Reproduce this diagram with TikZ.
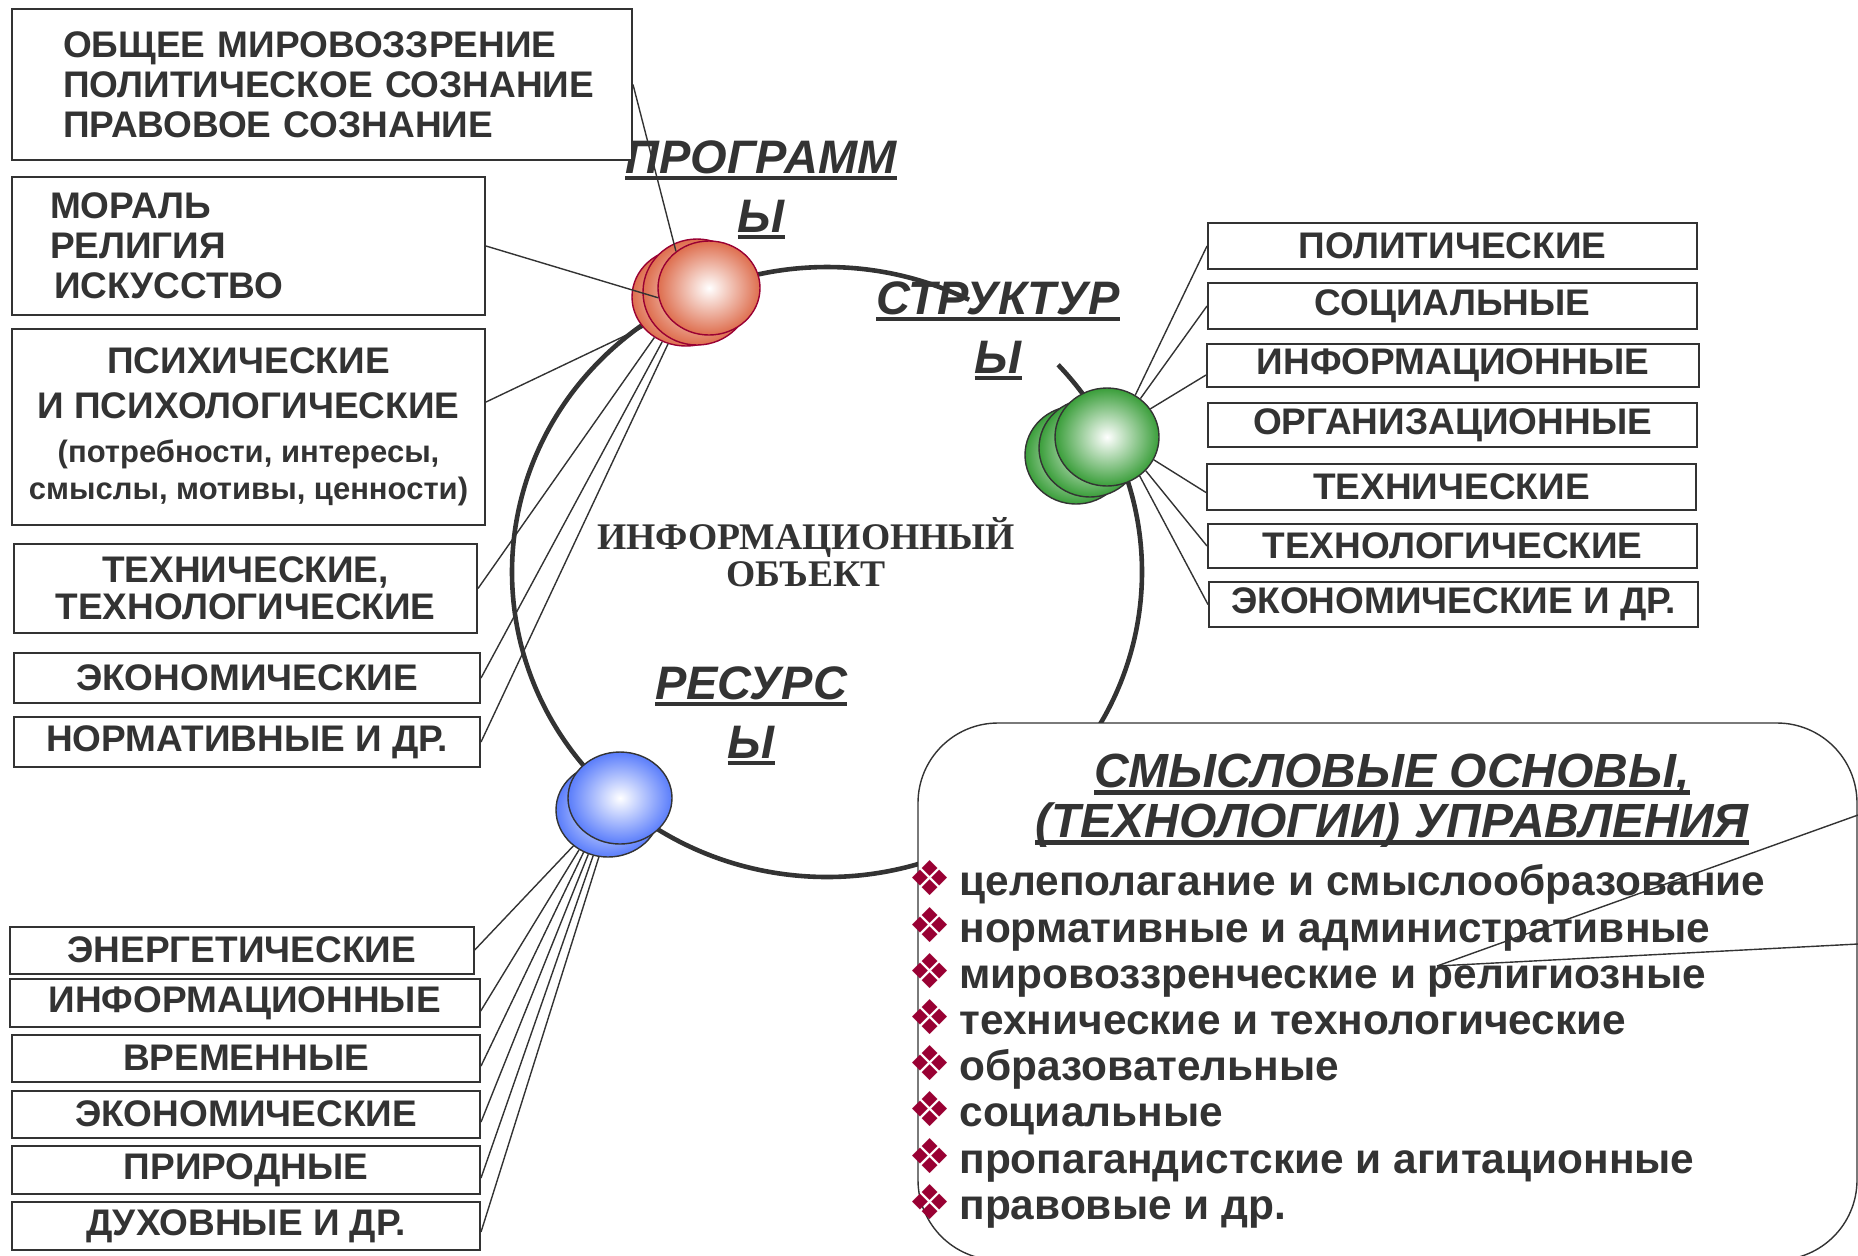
\documentclass[tikz,border=0pt]{standalone}
\usepackage{fontspec}
\setmainfont{Liberation Sans}
\newfontfamily\serifobj{Liberation Serif}
\newfontfamily\dingbat{DejaVu Sans}
\usetikzlibrary{shapes.geometric}

\definecolor{ink}{HTML}{333333}
\definecolor{crimson}{HTML}{990033}
\definecolor{redball}{HTML}{DE6E4E}
\definecolor{greenball}{HTML}{3A9E3A}
\definecolor{blueball}{HTML}{5A7DFB}

\newsavebox{\ulbox}
\newcommand{\uln}[1]{\sbox{\ulbox}{#1}\rlap{\usebox{\ulbox}}\rule[-3.5pt]{\wd\ulbox}{2.2pt}}
\newcommand{\bul}{{\dingbat\fontsize{24}{20}\selectfont\color{crimson}❖}\hspace{4pt}}

\tikzset{
  box/.style={draw=ink, line width=1pt, fill=white, inner sep=0pt, align=center, text=ink,
    font=\fontsize{18.5}{20}\selectfont\bfseries},
  wire/.style={draw=ink, line width=0.7pt},
  ball/.style 2 args={ellipse, inner sep=0pt, draw=#2, line width=0.7pt, inner color=white, outer color=#1},
  tag/.style={inner sep=0pt, align=center, text=ink, font=\fontsize{23.5}{29.5}\selectfont\bfseries\itshape}
}

\begin{document}
\begin{tikzpicture}[x=0.5pt, y=-0.5pt]
		\useasboundingbox (0,0) rectangle (1858,1255);
		\clip (0,0) rectangle (1858,1255);
		
		% ring of the object
		\draw[ink, line width=2.3pt] (827,572) ++(-42.8:315 and 305)
			arc[start angle=-42.8, end angle=296.8, x radius=315, y radius=305];
		
		\node[ball={redball}{crimson}, minimum width=54pt, minimum height=49pt] (RA) at (686,297) {};
		\node[ball={redball}{crimson}, minimum width=54pt, minimum height=53pt] (RB) at (697,292) {};
		\node[ball={redball}{crimson}, minimum width=51pt, minimum height=47pt] (R) at (709,288) {};
		
		\node[ball={greenball}{ink}, minimum width=51pt, minimum height=49pt] (GA) at (1076,455) {};
		\node[ball={greenball}{ink}, minimum width=51pt, minimum height=49pt] (GB) at (1090,448) {};
		\node[ball={greenball}{ink}, minimum width=52pt, minimum height=49pt] (G) at (1107,437) {};
		
		\node[ball={blueball}{ink}, minimum width=52pt, minimum height=47pt] (BA) at (608,810) {};
		\node[ball={blueball}{ink}, minimum width=52pt, minimum height=46pt] (B) at (620,798) {};
		
		\node[tag] (P) at (761,190) {\uln{ПРОГРАММ}\\\uln{Ы}};
		\node[tag] (S) at (998,331) {\uln{СТРУКТУР}\\\uln{Ы}};
		\node[tag] (Q) at (751,716) {\uln{РЕСУРС}\\\uln{Ы}};
		\node[text=ink, align=center, inner sep=0pt, font=\serifobj\bfseries\fontsize{18.8}{18.5}\selectfont] (I) at (806,552) {ИНФОРМАЦИОННЫЙ\\ОБЪЕКТ};
		
		% programmes
		\node[box, text width=259pt, inner xsep=25.5pt, align=left, minimum height=75.5pt] (W1) at (322,84.5) {\mbox{ОБЩЕЕ МИРОВОЗЗРЕНИЕ}\\\mbox{ПОЛИТИЧЕСКОЕ СОЗНАНИЕ}\\\mbox{ПРАВОВОЕ СОЗНАНИЕ}};
		\node[box, text width=198.5pt, inner xsep=19pt, align=left, minimum height=69pt] (W2) at (248.5,246) {МОРАЛЬ\\РЕЛИГИЯ\\\hspace*{2pt}ИСКУССТВО};
		\node[box, minimum width=236.5pt, minimum height=98pt] (W3) at (248.5,427) {ПСИХИЧЕСКИЕ\\[2.5pt]И ПСИХОЛОГИЧЕСКИЕ\\[2pt]{\fontsize{15.5}{17}\selectfont (потребности, интересы,}\\[-1.5pt]{\fontsize{15.5}{17}\selectfont смыслы, мотивы, ценности)}};
		\node[box, minimum width=231.5pt, minimum height=44.5pt, font=\fontsize{18.5}{18.5}\selectfont\bfseries] (W4) at (245.5,588.5) {ТЕХНИЧЕСКИЕ,\\ТЕХНОЛОГИЧЕСКИЕ};
		\node[box, minimum width=233pt, minimum height=25pt] (W5) at (247,678) {ЭКОНОМИЧЕСКИЕ};
		\node[box, minimum width=233pt, minimum height=25pt] (W6) at (247,742) {НОРМАТИВНЫЕ И ДР.};
		
		% structures
		\node[box, minimum width=244.5pt, minimum height=23pt] (S1) at (1452.5,246) {ПОЛИТИЧЕСКИЕ};
		\node[box, minimum width=244.5pt, minimum height=23pt] (S2) at (1452.5,306) {СОЦИАЛЬНЫЕ};
		\node[box, minimum width=246pt, minimum height=21.5pt] (S3) at (1453,365) {ИНФОРМАЦИОННЫЕ};
		\node[box, minimum width=244.5pt, minimum height=22pt] (S4) at (1452.5,425) {ОРГАНИЗАЦИОННЫЕ};
		\node[box, minimum width=244.5pt, minimum height=23pt] (S5) at (1451.5,486.5) {ТЕХНИЧЕСКИЕ};
		\node[box, minimum width=244.5pt, minimum height=22pt] (S6) at (1452.5,546) {ТЕХНОЛОГИЧЕСКИЕ};
		\node[box, minimum width=244.5pt, minimum height=22.5pt] (S7) at (1453.5,604.5) {ЭКОНОМИЧЕСКИЕ И ДР.};
		
		% resources
		\node[box, minimum width=232pt, minimum height=23.5pt] (E1) at (241.7,950) {ЭНЕРГЕТИЧЕСКИЕ};
		\node[box, minimum width=235pt, minimum height=24pt] (E2) at (244.7,1003) {ИНФОРМАЦИОННЫЕ};
		\node[box, minimum width=234pt, minimum height=23.5pt] (E3) at (246,1058) {ВРЕМЕННЫЕ};
		\node[box, minimum width=234pt, minimum height=23.5pt] (E4) at (246,1114) {ЭКОНОМИЧЕСКИЕ};
		\node[box, minimum width=234pt, minimum height=24pt] (E5) at (246,1170) {ПРИРОДНЫЕ};
		\node[box, minimum width=234pt, minimum height=24pt] (E6) at (246,1226) {ДУХОВНЫЕ И ДР.};
		
		\path[wire] (W1.east) edge (R.132);
		\path[wire] (W2.east) edge (R.191);
		\path[wire] ([yshift=12.5pt]W3.east) edge (RA.215);
		\path[wire] (W4.east) edge (RA.232);
		\path[wire] (W5.east) edge (RA.242);
		\path[wire] (W6.east) edge (RA.249);
		
		\path[wire] (G.56) edge (S1.west);
		\path[wire] (G.49) edge (S2.west);
		\path[wire] (G.33) edge ([yshift=-5pt]S3.west);
		\path[wire] (G.334) edge ([yshift=-3pt]S5.west);
		\path[wire] (G.319) edge (S6.west);
		\path[wire] (G.310) edge (S7.west);
		
		\path[wire] (BA.226) edge (E1.east);
		\path[wire] (BA.234) edge ([yshift=-4pt]E2.east);
		\path[wire] (BA.240) edge ([yshift=-4pt]E3.east);
		\path[wire] (BA.246) edge ([yshift=-4pt]E4.east);
		\path[wire] (BA.252) edge ([yshift=-4pt]E5.east);
		\path[wire] (BA.259) edge ([yshift=-3pt]E6.east);
		
		% foundations of management
		\node[draw=ink, line width=0.7pt, fill=white, rounded corners=40pt, minimum width=469.5pt, minimum height=268.5pt] (F) at (1387.5,991.5) {};
		\node[inner sep=0pt, align=center, text=ink, font=\fontsize{24}{25}\selectfont\bfseries\itshape] (H) at (1392,801) {\uln{СМЫСЛОВЫЕ ОСНОВЫ,}\\\uln{(ТЕХНОЛОГИИ) УПРАВЛЕНИЯ}};
		\node[anchor=west, inner sep=0pt, align=left, text=ink, font=\fontsize{21.2}{23.1}\selectfont\bfseries] (L) at (908,1044.5) {\bul целеполагание и смыслообразование\\\bul нормативные и административные\\\bul мировоззренческие и религиозные\\\bul технические и технологические\\\bul образовательные\\\bul социальные\\\bul пропагандистские и агитационные\\\bul правовые и др.};
		
		\coordinate (X1) at (1858,815);
		\coordinate (X2) at (1858,944);
		\coordinate (X0) at (1437,966);
		\path[wire] (X1) edge (X0);
		\path[wire] (X2) edge (X0);
\end{tikzpicture}
\end{document}
